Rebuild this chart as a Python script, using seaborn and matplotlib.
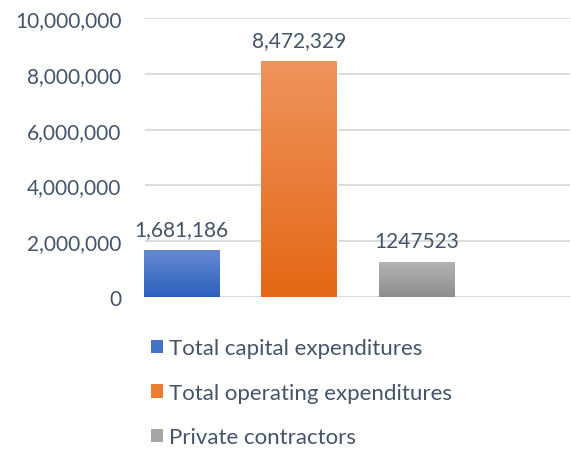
import matplotlib
matplotlib.use("Agg")
import matplotlib.pyplot as plt
import seaborn as sns
import numpy as np
import pandas as pd
from matplotlib.colors import LinearSegmentedColormap
from matplotlib.patches import Patch

categories = ["Total capital expenditures", "Total operating expenditures", "Private contractors"]
values = [1681186, 8472329, 1247523]
value_labels = ["1,681,186", "8,472,329", "1247523"]
yticks = [0, 2000000, 4000000, 6000000, 8000000, 10000000]
ytick_labels = ["0", "2,000,000", "4,000,000", "6,000,000", "8,000,000", "10,000,000"]

top_colors = ["#6689D2", "#F0935E", "#B2B2B2"]
bottom_colors = ["#2D60BD", "#E36814", "#8E8E8E"]
mid_colors = ["#4472C4", "#ED7D31", "#A5A5A5"]

sns.set_theme(style="white")
plt.rcParams["font.family"] = ["Lato", "DejaVu Sans"]
text_color = "#44546A"
grid_color = "#D9D9D9"

fig = plt.figure(figsize=(5.71, 4.52), dpi=100)
ax = fig.add_axes([0.254, 0.3414, 0.744, 0.616])

df = pd.DataFrame({"cat": categories, "val": values})
sns.barplot(data=df, x="cat", y="val", hue="cat", palette=mid_colors,
            order=categories, hue_order=categories, width=0.64, dodge=False,
            legend=False, ax=ax, saturation=1)

ax.set_ylim(0, 10000000)
ax.set_xlim(-0.311, 3.306)
ax.set_yticks(yticks)
ax.set_yticklabels(ytick_labels)
ax.set_xticks([])
ax.set_xlabel("")
ax.set_ylabel("")
for s in ax.spines.values():
    s.set_visible(False)
ax.tick_params(axis="y", length=0, pad=17, labelsize=15, labelcolor=text_color)
ax.set_axisbelow(True)
ax.yaxis.grid(True, color=grid_color, linewidth=1.3)
ax.axhline(0, color=grid_color, linewidth=1.8, zorder=1)

# gradient fills
for patch, tc, bc in zip(ax.patches, top_colors, bottom_colors):
    x0, y0 = patch.get_x(), patch.get_y()
    w, h = patch.get_width(), patch.get_height()
    cmap = LinearSegmentedColormap.from_list("g", [bc, tc])
    grad = np.linspace(0, 1, 256).reshape(-1, 1)
    im = ax.imshow(grad, cmap=cmap, origin="lower", aspect="auto",
                   extent=[x0, x0 + w, y0, y0 + h], zorder=patch.get_zorder() + 0.1)
    im.set_clip_path(patch)
ax.set_xlim(-0.311, 3.306)
ax.set_ylim(0, 10000000)

for i, (v, lab) in enumerate(zip(values, value_labels)):
    ax.annotate(lab, (i, v), xytext=(0, 8), textcoords="offset points",
                ha="center", va="bottom", fontsize=15, color=text_color)

handles = [Patch(facecolor=c, edgecolor="none") for c in mid_colors]
leg = fig.legend(handles, categories, loc="upper left", bbox_to_anchor=(0.2645, 0.249),
                 frameon=False, fontsize=16, handlelength=0.55, handleheight=0.55,
                 handletextpad=0.25, labelspacing=1.1, borderaxespad=0, borderpad=0)
for t in leg.get_texts():
    t.set_color(text_color)

fig.savefig("out.png", dpi=100)
